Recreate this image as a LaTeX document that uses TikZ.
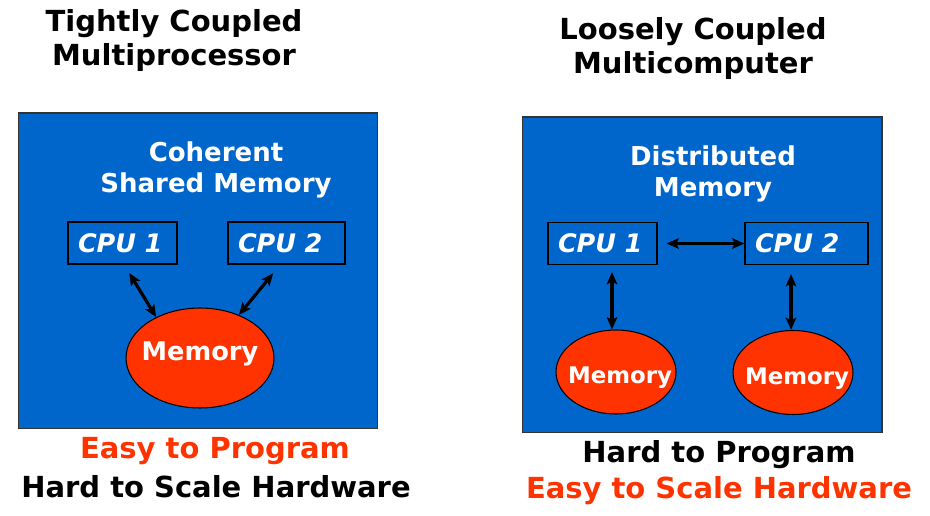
\documentclass[tikz,border=0pt]{standalone}
\usepackage{fontspec}
\setmainfont{DejaVu Sans}
\usetikzlibrary{shapes.geometric,arrows.meta}
\definecolor{boxblue}{HTML}{0066CC}
\definecolor{memred}{HTML}{FF3300}

\begin{document}
\begin{tikzpicture}[x=0.02cm,y=-0.02cm,
	every node/.style={font=\bfseries},
	title/.style={align=center,font={\bfseries\fontsize{16.5}{19.5}\selectfont}},
	bigbox/.style={draw=black!80,fill=boxblue,line width=0.6pt,inner sep=0pt,minimum width=7.2cm,minimum height=6.32cm},
	heading/.style={text=white,align=center,font={\bfseries\fontsize{14.8}{17.8}\selectfont}},
	cpubox/.style={draw=black,line width=0.6pt,text=white,align=left,inner xsep=0.2cm,minimum height=0.84cm,font={\bfseries\itshape\fontsize{14.5}{16}\selectfont}},
	memory/.style={ellipse,draw=black,fill=memred,inner sep=0pt,line width=0.6pt},
	memtext/.style={text=white,font={\bfseries\fontsize{#1}{16}\selectfont}},
	link/.style={{Stealth[length=7pt,width=6pt,inset=1.5pt]}-{Stealth[length=7pt,width=6pt,inset=1.5pt]},line width=1.8pt,black}]
	\useasboundingbox (0,0) rectangle (930,516);
	\node[title] (ltitle) at (174,40.5) {Tightly Coupled\\Multiprocessor};
	\node[title] (rtitle) at (693,48.5) {Loosely Coupled\\Multicomputer};
	\node[bigbox] (lbox) at (198,271) {};
	\node[bigbox] (rbox) at (702,275) {};
	\node[heading] (lhead) at (216,170) {Coherent\\Shared Memory};
	\node[heading] (rhead) at (713,174) {Distributed\\Memory};
	\node[cpubox,text width=1.78cm] (lcpu1) at (122.5,243) {CPU 1};
	\node[cpubox,text width=1.94cm] (lcpu2) at (286.5,243) {CPU 2};
	\node[memory,minimum width=2.96cm,minimum height=2cm,label={[memtext=14.6,yshift=0.08cm]center:Memory}] (lmem) at (200,358) {};
	\node[cpubox,text width=1.78cm] (rcpu1) at (602.5,243.5) {CPU 1};
	\node[cpubox,text width=2.06cm] (rcpu2) at (806.5,243.5) {CPU 2};
	\node[memory,minimum width=2.4cm,minimum height=1.68cm,label={[memtext=13,xshift=0.08cm,yshift=-0.12cm]center:Memory}] (rmem1) at (616,372) {};
	\node[memory,minimum width=2.4cm,minimum height=1.68cm,label={[memtext=13,xshift=0.08cm,yshift=-0.12cm]center:Memory}] (rmem2) at (793,372.5) {};
	\draw[link,shorten <=0.2cm] ([xshift=0.03cm]lcpu1.south) -- (lmem.137);
	\draw[link,shorten <=0.23cm] ([xshift=-0.12cm]lcpu2.south) -- (lmem.48);
	\draw[link,shorten <=0.18cm] (rcpu1.east) -- (rcpu2.west);
	\draw[link,shorten <=0.14cm] ([xshift=0.19cm]rcpu1.south) -- ([xshift=0.19cm]rcpu1.south |- rmem1.north);
	\draw[link,shorten <=0.18cm] ([xshift=-0.31cm]rcpu2.south) -- ([xshift=-0.31cm]rcpu2.south |- rmem2.north);
	\node[title,memred] (leasy) at (215,451) {Easy to Program};
	\node[title] (lhard) at (216,487) {Hard to Scale Hardware};
	\node[title] (rhard) at (719,455) {Hard to Program};
	\node[title,memred] (reasy) at (719,491) {Easy to Scale Hardware};
\end{tikzpicture}
\end{document}
